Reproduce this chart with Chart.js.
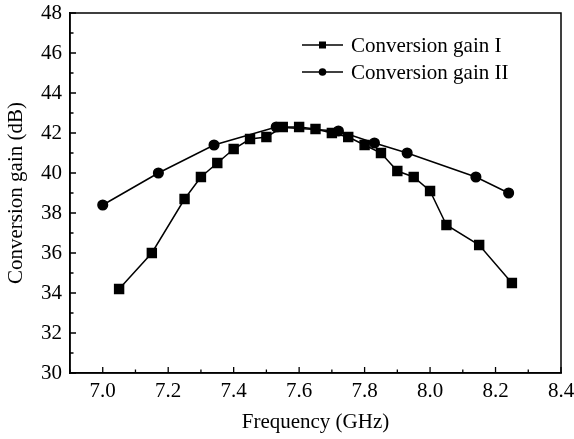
<!DOCTYPE html>
<html>
<head>
<meta charset="utf-8">
<script src="https://cdn.jsdelivr.net/npm/chart.js@4/dist/chart.umd.min.js"></script>
<style>
  html, body { margin: 0; padding: 0; background: #fff; }
  #wrap { width: 574px; height: 439px; }
</style>
</head>
<body>
<div id="wrap"><canvas id="gainChart" width="574" height="439"></canvas></div>
<script>
// data
const freqI = [7.05, 7.15, 7.25, 7.30, 7.35, 7.40, 7.45, 7.50, 7.55, 7.60, 7.65, 7.70, 7.75, 7.80, 7.85, 7.90, 7.95, 8.00, 8.05, 8.15, 8.25];
const gainI = [34.2, 36.0, 38.7, 39.8, 40.5, 41.2, 41.7, 41.8, 42.3, 42.3, 42.2, 42.0, 41.8, 41.4, 41.0, 40.1, 39.8, 39.1, 37.4, 36.4, 34.5];
const freqII = [7.00, 7.17, 7.34, 7.53, 7.72, 7.83, 7.93, 8.14, 8.24];
const gainII = [38.4, 40.0, 41.4, 42.3, 42.1, 41.5, 41.0, 39.8, 39.0];
const seriesNames = ['Conversion gain I', 'Conversion gain II'];
const xTitle = 'Frequency (GHz)';
const yTitle = 'Conversion gain (dB)';

const FONT = "'Liberation Serif', 'Times New Roman', serif";
const FSIZE = 21;

function toPoints(xs, ys) {
  return xs.map((x, i) => ({ x: x, y: ys[i] }));
}

// frame, inward ticks and legend
const framePlugin = {
  id: 'frame',
  afterDraw(chart) {
    const ctx = chart.ctx;
    const a = chart.chartArea;
    const xs = chart.scales.x;
    const ys = chart.scales.y;
    ctx.save();
    ctx.strokeStyle = '#000';
    ctx.lineWidth = 1.5;
    ctx.strokeRect(a.left, a.top, a.right - a.left, a.bottom - a.top);

    ctx.lineWidth = 1.3;
    ctx.beginPath();
    xs.ticks.forEach(t => {
      const px = xs.getPixelForValue(t.value);
      const major = Math.round(t.value * 10) % 2 === 0;
      const len = major ? 6 : 3.5;
      ctx.moveTo(px, a.bottom);
      ctx.lineTo(px, a.bottom - len);
    });
    ys.ticks.forEach(t => {
      const py = ys.getPixelForValue(t.value);
      const major = Math.round(t.value) % 2 === 0;
      const len = major ? 6 : 3.5;
      ctx.moveTo(a.left, py);
      ctx.lineTo(a.left + len, py);
    });
    ctx.stroke();

    // legend: line with marker, then label
    const lx = 302, ly = 45, gap = 27;
    chart.data.datasets.forEach((ds, i) => {
      const y = ly + i * gap;
      ctx.lineWidth = 1.5;
      ctx.beginPath();
      ctx.moveTo(lx, y);
      ctx.lineTo(lx + 41, y);
      ctx.stroke();
      ctx.fillStyle = '#000';
      if (ds.pointStyle === 'rect') {
        ctx.fillRect(lx + 20.5 - 3.5, y - 3.5, 7, 7);
      } else {
        ctx.beginPath();
        ctx.arc(lx + 20.5, y, 3.8, 0, Math.PI * 2);
        ctx.fill();
      }
      ctx.font = FSIZE + 'px ' + FONT;
      ctx.textBaseline = 'middle';
      ctx.textAlign = 'left';
      ctx.fillText(ds.label, lx + 49, y + 1);
    });
    ctx.restore();
  }
};

const chart = new Chart(document.getElementById('gainChart'), {
  type: 'scatter',
  data: {
    datasets: [
      {
        label: seriesNames[0],
        data: toPoints(freqI, gainI),
        showLine: true,
        borderColor: '#000',
        backgroundColor: '#000',
        borderWidth: 1.5,
        pointStyle: 'rect',
        pointRadius: 6.3,
        pointHoverRadius: 6.3
      },
      {
        label: seriesNames[1],
        data: toPoints(freqII, gainII),
        showLine: true,
        borderColor: '#000',
        backgroundColor: '#000',
        borderWidth: 1.5,
        pointStyle: 'circle',
        pointRadius: 4.8,
        pointHoverRadius: 4.8
      }
    ]
  },
  options: {
    responsive: false,
    animation: false,
    layout: { padding: { top: 13, right: 13, left: 0, bottom: 0 } },
    plugins: {
      legend: { display: false },
      tooltip: { enabled: false }
    },
    scales: {
      x: {
        type: 'linear',
        min: 6.9,
        max: 8.4,
        grid: { display: false, drawTicks: false },
        border: { display: true, color: '#000', width: 1.5 },
        ticks: {
          stepSize: 0.1,
          autoSkip: false,
          maxRotation: 0,
          padding: 6,
          color: '#000',
          font: { family: FONT, size: FSIZE },
          callback: v => (Math.round(v * 10) % 2 === 0 ? v.toFixed(1) : '')
        },
        title: {
          display: true,
          text: xTitle,
          color: '#000',
          font: { family: FONT, size: FSIZE },
          padding: { top: 0, bottom: 4 }
        },
        afterFit: s => {
          s.height = 66;
          s.paddingLeft = 0;
          s.paddingRight = 0;
        }
      },
      y: {
        type: 'linear',
        min: 30,
        max: 48,
        grid: { display: false, drawTicks: false },
        border: { display: true, color: '#000', width: 1.5 },
        ticks: {
          stepSize: 1,
          autoSkip: false,
          padding: 8,
          color: '#000',
          font: { family: FONT, size: FSIZE },
          callback: v => (Math.round(v) % 2 === 0 ? String(v) : '')
        },
        title: {
          display: true,
          text: yTitle,
          color: '#000',
          font: { family: FONT, size: FSIZE },
          padding: { top: 4, bottom: 0 }
        },
        afterFit: s => {
          s.width = 70;
          s.paddingTop = 0;
          s.paddingBottom = 0;
        }
      }
    }
  },
  plugins: [framePlugin]
});
</script>
</body>
</html>
